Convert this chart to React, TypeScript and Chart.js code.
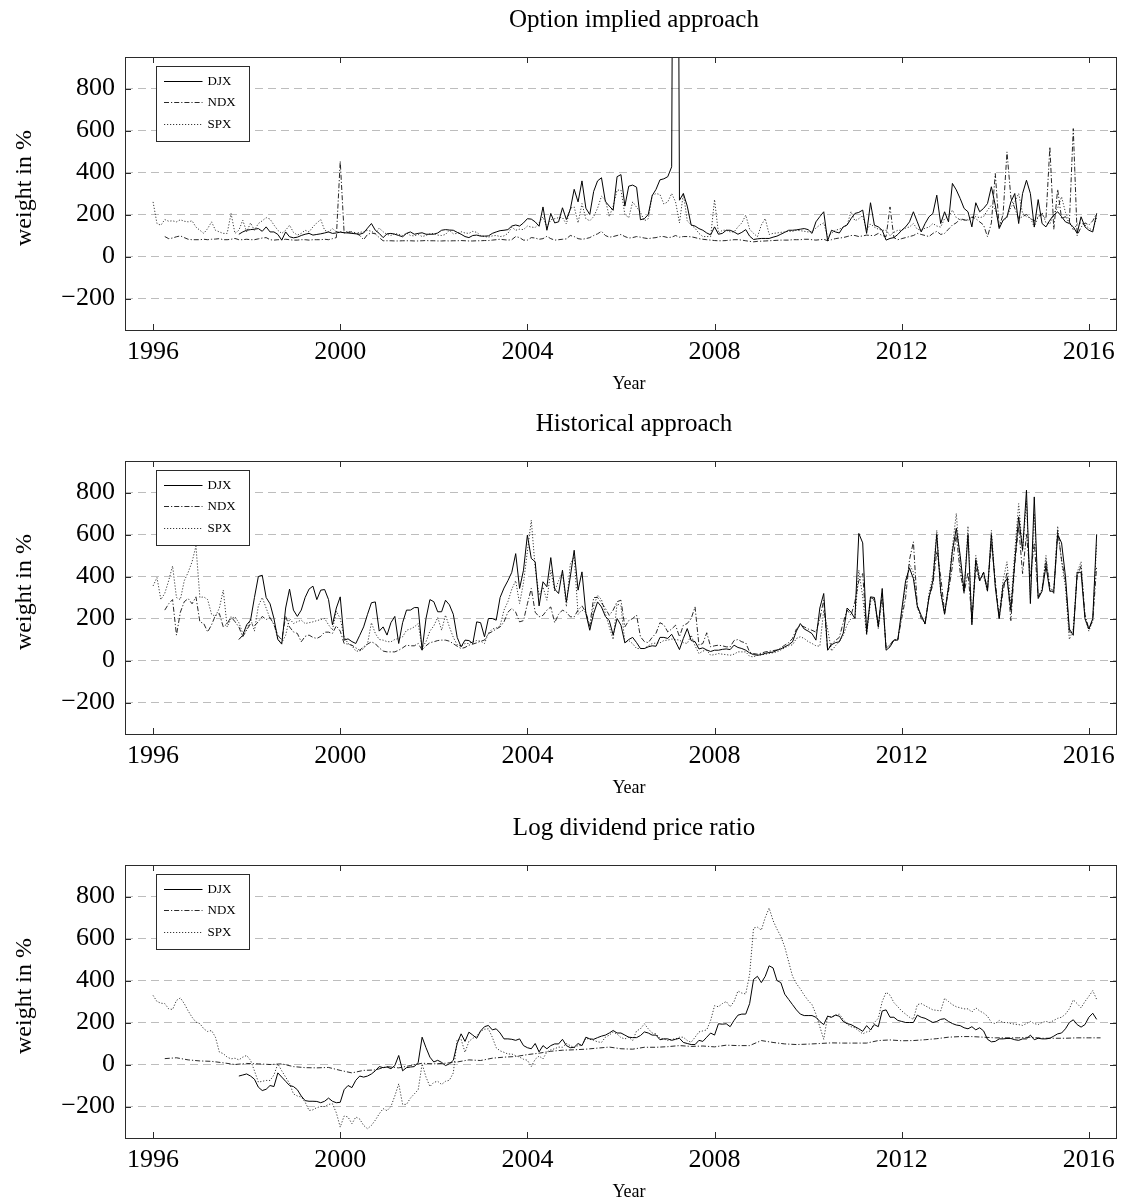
import { useEffect, useRef } from "react";
import { Chart, registerables } from "chart.js";

Chart.register(...registerables);

const SERIF = '"Liberation Serif", "Times New Roman", serif';

// Axis ticks shared by all three panels
const YEAR_TICKS = [1996, 2000, 2004, 2008, 2012, 2016];
const WEIGHT_TICKS = [-200, 0, 200, 400, 600, 800];
const YEAR_MIN = 1995.4;
const YEAR_MAX = 2016.58;
const WEIGHT_MIN = -350;
const WEIGHT_MAX = 950;

const X_LABEL = "Year";
const Y_LABEL = "weight in %";

// First observation of each index (fractional years)
const SPX_START = 1996;
const NDX_START = 1996.25;
const DJX_START = 1997 + 10 / 12;

// ---- Option implied approach (monthly weights, %) ----
const optionDJX = [
  106, 117,
  125, 128, 130, 133, 120, 141, 117, 117, 105, 78, 117, 94,
  89, 92, 100, 106, 110, 102, 105, 108, 112, 117, 110, 112,
  116, 113, 112, 110, 108, 106, 112, 135, 157, 125, 110, 90,
  108, 110, 106, 100, 94, 110, 117, 106, 110, 113, 106, 106,
  106, 112, 125, 128, 126, 125, 115, 106, 95, 90, 100, 102,
  97, 97, 98, 110, 117, 123, 125, 128, 145, 150, 145, 160,
  180, 178, 165, 144, 236, 125, 205, 160, 165, 232, 176, 224,
  320, 260, 360, 230, 200, 310, 360, 375, 262, 240, 220, 380,
  390, 240, 335, 340, 330, 175, 180, 200, 290, 320, 365, 370,
  380, 427, 4800, 268, 300, 240, 150, 145, 133, 125, 112, 103,
  141, 106, 110, 125, 125, 117, 106, 115, 128, 97, 81, 84,
  86, 86, 86, 92, 97, 106, 115, 125, 125, 127, 130, 133,
  128, 110, 165, 190, 213, 75, 125, 117, 112, 141, 150, 180,
  205, 210, 221, 110, 256, 149, 141, 125, 78, 86, 90, 105,
  125, 141, 165, 213, 165, 117, 157, 189, 205, 292, 157, 213,
  165, 348, 317, 276, 229, 213, 141, 256, 213, 229, 252, 332,
  244, 133, 173, 189, 260, 300, 157, 300, 363, 300, 141, 271,
  157, 141, 173, 197, 213, 190, 165, 157, 141, 110, 189, 141,
  125, 117, 205,
];
const optionNDX = [
  95, 85, 88, 94, 98, 90, 82, 80, 80,
  80, 82, 80, 82, 83, 85, 80, 80, 82, 86, 80, 80,
  82, 80, 80, 84, 88, 90, 80, 78, 80, 80, 82, 80,
  78, 78, 80, 80, 78, 80, 80, 80, 82, 80, 85, 90,
  454, 112, 115, 118, 112, 100, 80, 105, 112, 108, 90, 75,
  75, 75, 74, 74, 75, 75, 75, 74, 74, 75, 76, 75,
  75, 74, 74, 75, 74, 75, 75, 76, 75, 74, 74, 75,
  75, 76, 76, 78, 80, 82, 80, 78, 80, 95, 90, 78,
  78, 90, 88, 82, 85, 96, 85, 78, 80, 82, 84, 100,
  95, 85, 82, 85, 90, 100, 108, 120, 100, 92, 95, 100,
  105, 95, 88, 90, 95, 92, 88, 85, 88, 90, 95, 95,
  90, 92, 100, 92, 95, 95, 94, 90, 85, 82, 80, 78,
  76, 75, 75, 76, 78, 80, 80, 78, 75, 72, 70, 72,
  73, 74, 75, 76, 77, 78, 78, 78, 80, 80, 80, 82,
  82, 80, 78, 80, 82, 75, 80, 85, 88, 90, 95, 100,
  100, 95, 98, 102, 100, 100, 110, 100, 95, 236, 90, 80,
  85, 90, 95, 100, 110, 105, 100, 95, 110, 120, 105, 110,
  130, 150, 160, 180, 175, 170, 189, 180, 165, 150, 94, 160,
  395, 140, 200, 498, 280, 230, 180, 190, 200, 180, 170, 190,
  200, 180, 522, 130, 320, 180, 190, 160, 609, 100, 140, 160,
  150, 170, 205,
];
const optionSPX = [
  260, 157, 149, 176, 168, 170, 165, 175, 168, 165, 170, 140,
  125, 110, 133, 165, 125, 117, 110, 110, 205, 110, 125, 173,
  117, 160, 125, 157, 170, 185, 178, 150, 125, 110, 125, 149,
  115, 102, 110, 125, 117, 141, 160, 176, 125, 117, 133, 117,
  118, 115, 120, 112, 110, 115, 118, 125, 120, 110, 135, 118,
  105, 100, 110, 105, 100, 112, 100, 98, 105, 95, 100, 108,
  110, 102, 100, 105, 125, 108, 110, 118, 112, 110, 120, 115,
  100, 95, 92, 98, 100, 95, 98, 110, 140, 125, 130, 128,
  145, 140, 138, 160, 189, 140, 175, 180, 185, 185, 155, 230,
  236, 160, 252, 180, 170, 190, 230, 287, 270, 190, 240, 316,
  316, 200, 185, 260, 235, 210, 170, 180, 290, 300, 295, 250,
  260, 300, 260, 160, 300, 170, 150, 135, 110, 95, 95, 95,
  271, 110, 125, 125, 117, 117, 141, 160, 197, 130, 110, 94,
  150, 181, 105, 110, 112, 115, 117, 120, 120, 125, 123, 120,
  117, 120, 135, 150, 160, 95, 110, 125, 130, 140, 150, 213,
  170, 180, 195, 125, 155, 140, 130, 125, 125, 100, 115, 125,
  125, 135, 141, 157, 130, 125, 135, 140, 157, 145, 140, 180,
  190, 221, 185, 175, 173, 175, 185, 190, 185, 190, 220, 245,
  225, 155, 170, 185, 235, 260, 300, 205, 190, 185, 140, 190,
  210, 160, 155, 210, 230, 284, 210, 170, 125, 155, 160, 150,
  135, 125, 185,
];

// ---- Historical approach (monthly weights, %) ----
const historicalDJX = [
  100, 120,
  170, 192, 300, 400, 406, 300, 270, 200, 100, 78, 250, 340,
  240, 210, 240, 300, 340, 354, 290, 335, 338, 290, 170, 250,
  303, 97, 103, 90, 81, 120, 160, 220, 275, 279, 140, 160,
  121, 180, 210, 81, 180, 240, 240, 252, 252, 49, 200, 290,
  280, 232, 232, 287, 265, 220, 110, 65, 97, 95, 81, 184,
  180, 113, 200, 200, 192, 300, 345, 380, 420, 509, 343, 430,
  597, 486, 470, 260, 375, 351, 490, 340, 319, 430, 279, 398,
  525, 335, 422, 224, 144, 224, 279, 255, 210, 190, 121, 200,
  168, 84, 100, 110, 85, 57, 57, 65, 70, 68, 110, 110,
  105, 125, 90, 52, 105, 152, 95, 90, 55, 60, 50, 43,
  49, 49, 53, 55, 52, 73, 62, 57, 49, 36, 28, 25,
  28, 34, 38, 40, 49, 55, 65, 75, 89, 140, 176, 150,
  140, 128, 97, 250, 319, 49, 75, 85, 89, 130, 250, 230,
  200, 605, 560, 128, 303, 300, 160, 343, 49, 65, 97, 97,
  240, 380, 440, 390, 260, 215, 175, 300, 380, 600, 330, 220,
  350, 520, 630, 500, 330, 600, 170, 480, 380, 420, 330, 600,
  350, 200, 360, 390, 240, 470, 684, 525, 811, 271, 779, 295,
  330, 450, 330, 330, 600, 560, 400, 150, 120, 420, 420, 200,
  150, 200, 601,
];
const historicalNDX = [
  240, 270, 290, 121, 230, 280, 295, 270, 303,
  184, 176, 136, 170, 215, 224, 160, 175, 208, 185, 160, 113,
  144, 176, 165, 185, 210, 195, 205, 170, 120, 97, 210, 160,
  136, 129, 89, 115, 121, 110, 105, 115, 135, 135, 129, 165,
  140, 81, 78, 73, 60, 49, 65, 78, 89, 80, 60, 45,
  41, 41, 41, 49, 60, 73, 70, 70, 81, 50, 70, 85,
  89, 95, 97, 97, 92, 80, 68, 57, 62, 73, 78, 84,
  92, 97, 128, 138, 150, 160, 184, 230, 248, 230, 184, 190,
  270, 343, 230, 208, 215, 240, 255, 180, 220, 240, 230, 208,
  208, 240, 260, 230, 165, 300, 300, 275, 248, 215, 240, 280,
  287, 160, 190, 200, 216, 113, 90, 85, 110, 130, 180, 170,
  136, 150, 168, 113, 168, 176, 200, 255, 73, 81, 132, 65,
  70, 73, 70, 65, 65, 95, 100, 89, 84, 40, 33, 30,
  35, 41, 44, 47, 50, 60, 73, 85, 105, 150, 168, 160,
  150, 144, 135, 200, 287, 49, 80, 95, 110, 180, 240, 215,
  280, 380, 414, 140, 300, 290, 170, 320, 60, 75, 100, 100,
  200, 300, 480, 565, 260, 200, 180, 300, 360, 520, 400, 230,
  330, 450, 600, 420, 320, 420, 200, 440, 380, 420, 340, 560,
  380, 200, 330, 420, 190, 460, 640, 414, 600, 400, 560, 300,
  340, 480, 350, 320, 620, 480, 380, 130, 140, 400, 450, 220,
  150, 190, 450,
];
const historicalSPX = [
  355, 395, 290, 320, 380, 450, 300, 290, 380, 420, 470, 545,
  300, 303, 290, 220, 210, 250, 335, 160, 200, 208, 180, 130,
  145, 200, 140, 260, 300, 250, 200, 176, 100, 85, 120, 200,
  176, 185, 192, 176, 180, 184, 190, 195, 200, 170, 145, 235,
  200, 113, 81, 70, 45, 45, 57, 80, 180, 129, 100, 97,
  90, 89, 100, 105, 113, 144, 150, 160, 176, 60, 90, 140,
  165, 205, 144, 216, 160, 110, 75, 68, 81, 81, 90, 95,
  92, 81, 130, 150, 155, 165, 240, 280, 340, 380, 271, 370,
  520, 668, 440, 310, 350, 287, 430, 330, 380, 420, 256, 460,
  494, 220, 240, 230, 150, 260, 311, 290, 224, 160, 100, 270,
  260, 85, 95, 80, 57, 57, 57, 70, 81, 83, 84, 95,
  97, 102, 100, 97, 85, 81, 121, 70, 33, 45, 49, 25,
  28, 33, 30, 28, 25, 30, 41, 41, 41, 20, 17, 25,
  27, 30, 33, 37, 41, 50, 60, 70, 75, 105, 113, 105,
  90, 81, 70, 68, 240, 150, 45, 70, 89, 120, 170, 200,
  200, 430, 303, 120, 280, 290, 150, 300, 60, 70, 95, 100,
  220, 360, 460, 420, 250, 210, 170, 320, 400, 620, 320, 220,
  360, 540, 700, 460, 320, 640, 180, 500, 400, 400, 330, 620,
  360, 210, 380, 470, 260, 520, 747, 520, 760, 290, 700, 300,
  340, 500, 330, 340, 640, 470, 350, 100, 150, 420, 470, 200,
  140, 190, 560,
];

// ---- Log dividend price ratio (DJX/SPX monthly, NDX quarterly) ----
const dividendDJX = [
  -55, -50,
  -45, -55, -70, -108, -124, -118, -100, -105, -40, -60, -80, -100,
  -105, -120, -150, -172, -175, -175, -176, -182, -175, -160, -175, -182,
  -180, -120, -100, -110, -75, -55, -60, -55, -45, -30, -10, -15,
  -12, -20, -5, 43, -30, -15, -12, -10, 10, 130, 80, 35,
  12, 20, 10, -5, 3, 20, 100, 146, 110, 154, 140, 125,
  160, 180, 186, 165, 170, 150, 122, 122, 120, 115, 122, 90,
  80, 75, 100, 60, 90, 75, 90, 98, 98, 120, 90, 80,
  82, 100, 90, 130, 122, 120, 128, 135, 140, 150, 162, 150,
  150, 140, 130, 128, 128, 138, 155, 150, 140, 140, 118, 122,
  122, 115, 120, 125, 105, 100, 95, 95, 115, 110, 130, 150,
  140, 194, 192, 194, 180, 210, 235, 240, 240, 290, 405, 420,
  390, 420, 470, 460, 400, 390, 335, 310, 285, 260, 240, 233,
  233, 233, 225, 205, 190, 230, 225, 235, 230, 205, 195, 190,
  180, 170, 158, 185, 165, 190, 180, 255, 260, 225, 225, 210,
  205, 200, 200, 200, 235, 225, 220, 210, 200, 205, 215, 218,
  205, 195, 188, 185, 175, 170, 180, 165, 175, 160, 120, 108,
  110, 122, 122, 124, 124, 118, 115, 122, 122, 140, 118, 125,
  122, 122, 125, 135, 146, 150, 170, 200, 213, 190, 178, 190,
  225, 244, 215,
];
const dividendNDX = [
  28, 32, 22,
  17, 15, 8, 0,
  5, 3, 0, 3,
  -10, -15, -16, -14,
  -28, -40, -28, -26,
  -10, -16, -5, 6,
  3, 6, 12, 22,
  19, 30, 35, 38,
  47, 54, 63, 68,
  70, 73, 78, 83,
  75, 73, 82, 82,
  85, 90, 86, 88,
  84, 92, 90, 90,
  114, 105, 98, 95,
  97, 100, 103, 102,
  102, 102, 114, 117,
  113, 114, 118, 123,
  130, 133, 133, 130,
  127, 127, 127, 130,
  125, 125, 125, 127,
  127, 127,
];
const dividendSPX = [
  329, 300, 292, 290, 265, 262, 305, 317, 290, 255, 225, 202,
  195, 170, 157, 162, 130, 59, 52, 35, 27, 30, 22, 35,
  43, 20, -30, -84, -80, -76, -76, -50, 3, -30, -60, -90,
  -140, -150, -155, -179, -219, -216, -205, -200, -200, -190, -187, -230,
  -298, -245, -250, -282, -250, -260, -290, -306, -290, -265, -235, -210,
  -220, -200, -150, -92, -190, -190, -160, -140, -120, 3, -60, -105,
  -85, -80, -95, -80, -75, -40, 120, 120, 58, 110, 125, 135,
  158, 168, 170, 130, 80, 65, 58, 50, 50, 42, 35, 25,
  20, -10, 25, 40, 27, 60, 70, 75, 83, 82, 100, 90,
  80, 90, 90, 125, 120, 115, 108, 105, 130, 140, 155, 145,
  128, 122, 130, 114, 160, 170, 194, 170, 150, 146, 125, 122,
  114, 120, 122, 130, 130, 114, 106, 130, 155, 160, 165, 210,
  280, 275, 290, 300, 275, 300, 350, 340, 336, 430, 650, 654,
  640, 700, 745, 686, 645, 610, 560, 490, 420, 385, 360, 330,
  305, 285, 240, 180, 120, 230, 225, 235, 240, 215, 192, 180,
  175, 160, 146, 155, 160, 200, 220, 300, 344, 330, 295, 275,
  255, 240, 225, 215, 285, 290, 280, 270, 260, 258, 255, 315,
  300, 285, 275, 270, 265, 265, 250, 270, 255, 245, 230, 200,
  195, 210, 200, 200, 195, 192, 190, 186, 195, 205, 195, 190,
  200, 205, 200, 210, 220, 225, 240, 265, 308, 290, 270, 300,
  325, 352, 310,
];

type Pt = { x: number; y: number };
const series = (start: number, step: number, values: number[]): Pt[] =>
  values.map((y, i) => ({ x: start + i * step, y }));
const MONTH = 1 / 12;
const QUARTER = 1 / 4;

const LINE_STYLE = {
  DJX: { borderColor: "#000000", borderWidth: 1, borderDash: [] as number[] },
  NDX: { borderColor: "#111111", borderWidth: 0.9, borderDash: [5, 2, 1.2, 2] },
  SPX: { borderColor: "#3a3a3a", borderWidth: 1, borderDash: [1.2, 1.8] },
};

const PANELS = [
  {
    title: "Option implied approach",
    djx: series(DJX_START, MONTH, optionDJX),
    ndx: series(NDX_START, MONTH, optionNDX),
    spx: series(SPX_START, MONTH, optionSPX),
  },
  {
    title: "Historical approach",
    djx: series(DJX_START, MONTH, historicalDJX),
    ndx: series(NDX_START, MONTH, historicalNDX),
    spx: series(SPX_START, MONTH, historicalSPX),
  },
  {
    title: "Log dividend price ratio",
    djx: series(DJX_START, MONTH, dividendDJX),
    ndx: series(NDX_START, QUARTER, dividendNDX),
    spx: series(SPX_START, MONTH, dividendSPX),
  },
];

const PANEL_W = 1133;
const PANEL_H = 404;
const FRAME = "#2b2b2b";

// box around the plot area plus inward tick marks on all four sides
const framePlugin = {
  id: "panelFrame",
  afterDatasetsDraw(chart: any) {
    const { ctx, chartArea: a, scales } = chart;
    const T = 6;
    ctx.save();
    ctx.strokeStyle = FRAME;
    ctx.lineWidth = 1;
    ctx.setLineDash([]);
    ctx.beginPath();
    YEAR_TICKS.forEach((v) => {
      const px = Math.round(scales.x.getPixelForValue(v)) + 0.5;
      ctx.moveTo(px, a.bottom);
      ctx.lineTo(px, a.bottom - T);
      ctx.moveTo(px, a.top);
      ctx.lineTo(px, a.top + T);
    });
    WEIGHT_TICKS.forEach((v) => {
      const py = Math.round(scales.y.getPixelForValue(v)) + 0.5;
      ctx.moveTo(a.left, py);
      ctx.lineTo(a.left + T, py);
      ctx.moveTo(a.right, py);
      ctx.lineTo(a.right - T, py);
    });
    ctx.stroke();
    ctx.strokeRect(
      Math.round(a.left) + 0.5,
      Math.round(a.top) + 0.5,
      Math.round(a.right - a.left),
      Math.round(a.bottom - a.top)
    );
    ctx.restore();
  },
};

// legend box in the upper left corner of the plot area
const legendPlugin = {
  id: "panelLegend",
  afterDraw(chart: any) {
    const { ctx, chartArea: a } = chart;
    const bx = Math.round(a.left + 30.7) + 0.5;
    const by = Math.round(a.top + 8.7) + 0.5;
    const bw = 93;
    const bh = 75;
    ctx.save();
    ctx.fillStyle = "#ffffff";
    ctx.fillRect(bx, by, bw, bh);
    ctx.strokeStyle = FRAME;
    ctx.lineWidth = 1;
    ctx.setLineDash([]);
    ctx.strokeRect(bx, by, bw, bh);
    ctx.font = `13px ${SERIF}`;
    ctx.textBaseline = "middle";
    ctx.fillStyle = "#000000";
    chart.data.datasets.forEach((ds: any, i: number) => {
      const cy = Math.round(by + 14 + i * 21.8) + 0.5;
      ctx.strokeStyle = ds.borderColor;
      ctx.lineWidth = ds.borderWidth;
      ctx.setLineDash(ds.borderDash || []);
      ctx.beginPath();
      ctx.moveTo(bx + 7.5, cy);
      ctx.lineTo(bx + 46, cy);
      ctx.stroke();
      ctx.fillText(ds.label, bx + 51, cy + 0.5);
    });
    ctx.restore();
  },
};

// panel title and axis labels
const labelPlugin = {
  id: "panelLabels",
  afterDraw(chart: any) {
    const { ctx } = chart;
    const title = chart.options.plugins.panelLabels.title;
    ctx.save();
    ctx.fillStyle = "#000";
    ctx.textAlign = "center";
    ctx.textBaseline = "middle";
    ctx.font = `25px ${SERIF}`;
    ctx.fillText(title, 634, 20);
    ctx.font = `18px ${SERIF}`;
    ctx.fillText(X_LABEL, 629, 384);
    ctx.translate(25, 188);
    ctx.rotate(-Math.PI / 2);
    ctx.font = `24px ${SERIF}`;
    ctx.fillText(Y_LABEL, 0, 0);
    ctx.restore();
  },
};

function Panel({ panel }: { panel: (typeof PANELS)[number] }) {
  const ref = useRef<HTMLCanvasElement | null>(null);

  useEffect(() => {
    if (!ref.current) return;
    const chart = new Chart(ref.current, {
      type: "line",
      data: {
        datasets: [
          { label: "DJX", data: panel.djx, ...LINE_STYLE.DJX },
          { label: "NDX", data: panel.ndx, ...LINE_STYLE.NDX },
          { label: "SPX", data: panel.spx, ...LINE_STYLE.SPX },
        ],
      },
      options: {
        animation: false,
        responsive: false,
        events: [],
        layout: { padding: { left: 0, right: 17, top: 57, bottom: 0 } },
        elements: { point: { radius: 0 }, line: { tension: 0, fill: false } },
        plugins: {
          legend: { display: false },
          tooltip: { enabled: false },
          title: { display: false },
          panelLabels: { title: panel.title },
        },
        scales: {
          x: {
            type: "linear",
            min: YEAR_MIN,
            max: YEAR_MAX,
            afterBuildTicks: (s: any) => {
              s.ticks = YEAR_TICKS.map((value) => ({ value }));
            },
            afterFit: (s: any) => {
              s.height = 74;
            },
            grid: { display: false, drawTicks: false },
            border: { display: false },
            ticks: {
              autoSkip: false,
              maxRotation: 0,
              padding: 7,
              color: "#000",
              font: { family: SERIF, size: 26 },
              callback: (v: any) => String(v),
            },
            title: { display: false },
          },
          y: {
            type: "linear",
            min: WEIGHT_MIN,
            max: WEIGHT_MAX,
            afterBuildTicks: (s: any) => {
              s.ticks = WEIGHT_TICKS.map((value) => ({ value }));
            },
            afterFit: (s: any) => {
              s.width = 125;
            },
            grid: { color: "#bdbdbd", lineWidth: 1, drawTicks: false },
            border: { display: false, dash: [8, 5] },
            ticks: {
              autoSkip: false,
              padding: 10,
              color: "#000",
              font: { family: SERIF, size: 26 },
              callback: (v: any) => (v < 0 ? "\u2212" + Math.abs(v) : String(v)),
            },
            title: { display: false },
          },
        },
      } as any,
      plugins: [framePlugin, legendPlugin, labelPlugin],
    });
    return () => chart.destroy();
  }, [panel]);

  return <canvas ref={ref} width={PANEL_W} height={PANEL_H} style={{ display: "block" }} />;
}

export default function App() {
  return (
    <div
      style={{
        position: "fixed",
        left: 0,
        top: 0,
        width: PANEL_W,
        height: 1204,
        overflow: "hidden",
        background: "#fff",
      }}
    >
      {PANELS.map((p) => (
        <Panel key={p.title} panel={p} />
      ))}
    </div>
  );
}
